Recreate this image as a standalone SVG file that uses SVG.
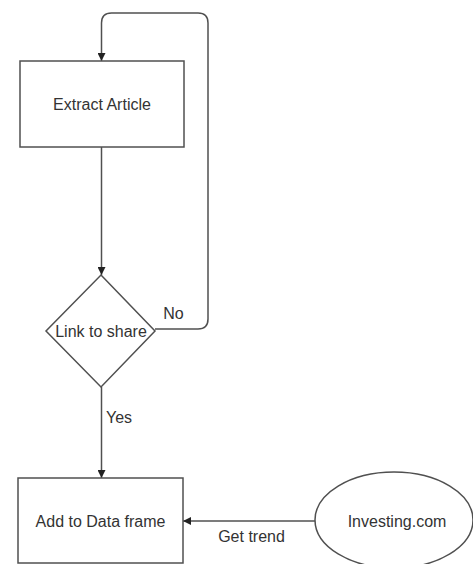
<svg xmlns="http://www.w3.org/2000/svg" width="473" height="564" viewBox="0 0 473 564">
<style>
.shape{fill:#fff;stroke:#505050;stroke-width:1.5}
.edge{fill:none;stroke:#505050;stroke-width:1.5}
text{font-family:"Liberation Sans",Arial,sans-serif;font-size:16px;fill:#333}
.c{text-anchor:middle}
</style>
<defs>
<marker id="arr" viewBox="0 0 10 10" refX="10" refY="5" markerWidth="8" markerHeight="8" markerUnits="userSpaceOnUse" orient="auto">
<path d="M0,0 L10,5 L0,10 Z" fill="#222"/>
</marker>
</defs>
<rect width="473" height="564" fill="#fff"/>
<g id="connectors">
<path class="edge" d="M101.5,147 L101.5,275" marker-end="url(#arr)"/>
<path class="edge" d="M155,329 L198,329 Q208,329 208,319 L208,23 Q208,13 198,13 L111.5,13 Q101.5,13 101.5,23 L101.5,61" marker-end="url(#arr)"/>
<path class="edge" d="M101.5,387 L101.5,478" marker-end="url(#arr)"/>
<path class="edge" d="M315,521 L183,521" marker-end="url(#arr)"/>
<text x="173.5" y="319" class="c">No</text>
<text x="106" y="423">Yes</text>
<text x="251.5" y="542" class="c">Get trend</text>
</g>
<g id="extract">
<rect class="shape" x="20" y="61" width="164" height="86"/>
<text x="102" y="110" class="c">Extract Article</text>
</g>
<g id="decision">
<polygon class="shape" points="101,275 155,331 101,387 46,331"/>
<text x="101" y="337" class="c">Link to share</text>
</g>
<g id="dataframe">
<rect class="shape" x="18" y="478" width="165" height="85"/>
<text x="100.5" y="527" class="c">Add to Data frame</text>
</g>
<g id="investing">
<ellipse class="shape" cx="394" cy="520" rx="79" ry="48"/>
<text x="397" y="527" class="c">Investing.com</text>
</g>
</svg>
